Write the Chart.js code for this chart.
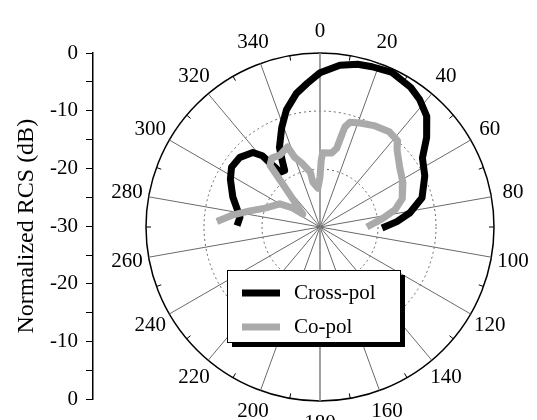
<!DOCTYPE html>
<html>
<head>
<meta charset="utf-8">
<script src="https://cdn.jsdelivr.net/npm/chart.js@4/dist/chart.umd.min.js"></script>
<style>
  html, body { margin: 0; padding: 0; background: #fff; }
  #wrap { position: relative; width: 537px; height: 420px; overflow: hidden; }
  canvas { position: absolute; top: 0; }
  #axis { left: 0; }
  #polar { left: 100px; }
</style>
</head>
<body>
<div id="wrap">
  <canvas id="axis" width="100" height="420"></canvas>
  <canvas id="polar" width="437" height="420"></canvas>
</div>
<script>
const FONT = '"Liberation Serif", "Times New Roman", serif';

// Angular tick labels (degrees, clockwise from top)
const angleTicks = ['0', '20', '40', '60', '80', '100', '120', '140', '160',
                    '180', '200', '220', '240', '260', '280', '300', '320', '340'];
// Left-hand RCS scale, top to bottom
const rcsTicks = ['0', '-10', '-20', '-30', '-20', '-10', '0'];
const seriesNames = ['Cross-pol', 'Co-pol'];

// Cross-polarised response: angle (deg) and normalized RCS (dB)
const crossAngles = [271, 277, 289, 298, 304, 311, 318, 321, 322, 323, 324, 328, 330, 333,
                     339, 344, 350, 355, 0, 7, 13, 18, 25, 33, 38, 44, 50, 56, 64, 74, 81, 86, 91];
const crossDb = [-15.7, -16.1, -14.1, -12.5, -11.6, -11.7, -12.7, -14.2, -15.9, -17.2, -18.3, -18.5,
                 -17.1, -14.6, -11.6, -9.0, -6.6, -5.1, -3.4, -1.9, -1.2, -0.95, -0.6, -1.3, -2.1,
                 -3.5, -6.0, -8.7, -9.9, -11.7, -14.3, -16.7, -19.3];

// Co-polarised response
const coAngles = [273, 278, 283, 289, 300, 305, 307, 318, 321, 325, 331, 338, 340, 344, 350, 351,
                  357, 0, 1, 2, 9, 12, 13, 14, 16, 21, 28, 36, 42, 45, 53, 62, 71, 77, 82, 90];
const coDb = [-12.2, -14.9, -17.6, -20.0, -22.0, -24.3, -26.3, -21.5, -16.3, -15.5, -15.8, -15.1,
              -17.2, -18.5, -20.4, -22.2, -23.3, -21.4, -18.6, -17.2, -17.1, -16.1, -14.3, -12.2,
              -11.2, -10.8, -10.2, -9.7, -10.0, -11.2, -12.8, -13.8, -15.0, -16.7, -19.0, -21.9];

// The angular axis has one category per degree; the first one sits in the
// empty lower sector so each trace stays a single open run of points.
const START_DEG = 180;
const idxOf = (deg) => ((deg - START_DEG) % 360 + 360) % 360;
const degreeLabels = Array.from({ length: 360 }, (_, i) => String((START_DEG + i) % 360));

function toSeries(angles, values) {
  const out = new Array(360).fill(null);
  angles.forEach((a, k) => { out[idxOf(a)] = values[k]; });
  return out;
}

// Radar lines are closed loops by default; keep these traces open.
const openTraces = {
  id: 'openTraces',
  afterDatasetsUpdate(chart) {
    chart.data.datasets.forEach((_, i) => {
      const line = chart.getDatasetMeta(i).dataset;
      if (line) {
        line._loop = false;
        delete line._segments;
        delete line._path;
      }
    });
  }
};

// Minor ticks on the rim every 20 degrees, offset by 10
const rimTicks = {
  id: 'rimTicks',
  beforeDatasetsDraw(chart) {
    const r = chart.scales.r;
    const ctx = chart.ctx;
    ctx.save();
    ctx.strokeStyle = '#000';
    ctx.lineWidth = 1;
    for (let a = 10; a < 360; a += 20) {
      const p1 = r.getPointPosition(idxOf(a), r.drawingArea);
      const p2 = r.getPointPosition(idxOf(a), r.drawingArea - 5);
      ctx.beginPath();
      ctx.moveTo(p1.x, p1.y);
      ctx.lineTo(p2.x, p2.y);
      ctx.stroke();
    }
    ctx.restore();
  }
};

// Angle numbers outside the rim
const angleNumbers = {
  id: 'angleNumbers',
  afterDraw(chart) {
    const r = chart.scales.r;
    const ctx = chart.ctx;
    ctx.save();
    ctx.font = '21px ' + FONT;
    ctx.fillStyle = '#000';
    ctx.textAlign = 'center';
    ctx.textBaseline = 'middle';
    angleTicks.forEach((t) => {
      const p = r.getPointPosition(idxOf(Number(t)), r.drawingArea + 22);
      ctx.fillText(t, p.x, p.y);
    });
    ctx.restore();
  }
};

// Boxed legend with a drop shadow, inside the lower half of the plot
const boxLegend = {
  id: 'boxLegend',
  afterDraw(chart) {
    const r = chart.scales.r;
    const ctx = chart.ctx;
    const left = r.xCenter - 93, top = r.yCenter + 43, w = 173, h = 72;
    ctx.save();
    ctx.fillStyle = '#000';
    ctx.fillRect(left + 5, top + 5, w, h);
    ctx.fillStyle = '#fff';
    ctx.fillRect(left, top, w, h);
    ctx.strokeStyle = '#000';
    ctx.lineWidth = 1;
    ctx.strokeRect(left + 0.5, top + 0.5, w, h);
    ctx.font = '21px ' + FONT;
    ctx.textAlign = 'left';
    ctx.textBaseline = 'middle';
    chart.data.datasets.forEach((ds, i) => {
      const y = top + 23 + i * 34;
      ctx.strokeStyle = ds.borderColor;
      ctx.lineWidth = 7;
      ctx.beginPath();
      ctx.moveTo(left + 15, y);
      ctx.lineTo(left + 53, y);
      ctx.stroke();
      ctx.fillStyle = '#000';
      ctx.fillText(ds.label, left + 67, y);
    });
    ctx.restore();
  }
};

new Chart(document.getElementById('polar'), {
  type: 'radar',
  data: {
    labels: degreeLabels,
    datasets: [
      {
        label: seriesNames[0],
        data: toSeries(crossAngles, crossDb),
        borderColor: '#000000',
        backgroundColor: 'rgba(0,0,0,0)',
        borderWidth: 7,
        borderJoinStyle: 'round',
        borderCapStyle: 'butt',
        spanGaps: true,
        fill: false,
        tension: 0,
        pointRadius: 0,
        pointHoverRadius: 0,
        order: 1
      },
      {
        label: seriesNames[1],
        data: toSeries(coAngles, coDb),
        borderColor: '#aaaaaa',
        backgroundColor: 'rgba(0,0,0,0)',
        borderWidth: 7,
        borderJoinStyle: 'round',
        borderCapStyle: 'butt',
        spanGaps: true,
        fill: false,
        tension: 0,
        pointRadius: 0,
        pointHoverRadius: 0,
        order: 0
      }
    ]
  },
  options: {
    responsive: false,
    animation: false,
    events: [],
    layout: { padding: { left: 46, right: 43, top: 53, bottom: 19 } },
    plugins: { legend: { display: false }, tooltip: { enabled: false } },
    scales: {
      r: {
        min: -30,
        max: 0,
        startAngle: START_DEG,
        ticks: { display: false, stepSize: 10 },
        pointLabels: { display: false },
        grid: {
          circular: true,
          color: (c) => (c.tick && c.tick.value === 0 ? '#000' : (c.tick && c.tick.value === -30 ? 'rgba(0,0,0,0)' : '#666')),
          lineWidth: (c) => (c.tick && c.tick.value === 0 ? 1.5 : 1)
        },
        border: {
          dash: (c) => (c.tick && c.tick.value === 0 ? [] : [2, 3])
        },
        angleLines: {
          color: (c) => ((START_DEG + c.index) % 180 === 0 ? '#888' : '#6a6a6a'),
          lineWidth: (c) => {
            const a = (START_DEG + c.index) % 360;
            if (a % 20 !== 0) return 0;
            return a % 180 === 0 ? 1.6 : 1;
          }
        }
      }
    }
  },
  plugins: [openTraces, rimTicks, angleNumbers, boxLegend]
});

// Stand-alone left axis for the normalized RCS scale
new Chart(document.getElementById('axis'), {
  type: 'scatter',
  data: { datasets: [] },
  options: {
    responsive: false,
    animation: false,
    events: [],
    layout: { padding: { top: 53, bottom: 19, left: 0, right: 0 } },
    plugins: { legend: { display: false }, tooltip: { enabled: false } },
    scales: {
      x: { display: false, min: 0, max: 1 },
      y: {
        position: 'left',
        min: -30,
        max: 30,
        afterFit: (s) => { s.width = 93; },
        ticks: {
          stepSize: 5,
          autoSkip: false,
          padding: 8,
          color: '#000',
          font: { family: FONT, size: 21 },
          callback: (v) => (v % 10 === 0 ? rcsTicks[(30 - v) / 10] : '')
        },
        grid: { drawOnChartArea: false, tickLength: 7, tickColor: '#000', tickWidth: 1 },
        border: { color: '#000', width: 1.5 },
        title: {
          display: true,
          text: 'Normalized RCS (dB)',
          color: '#000',
          font: { family: FONT, size: 24 },
          padding: { top: 12, bottom: 0 }
        }
      }
    }
  }
});
</script>
</body>
</html>
